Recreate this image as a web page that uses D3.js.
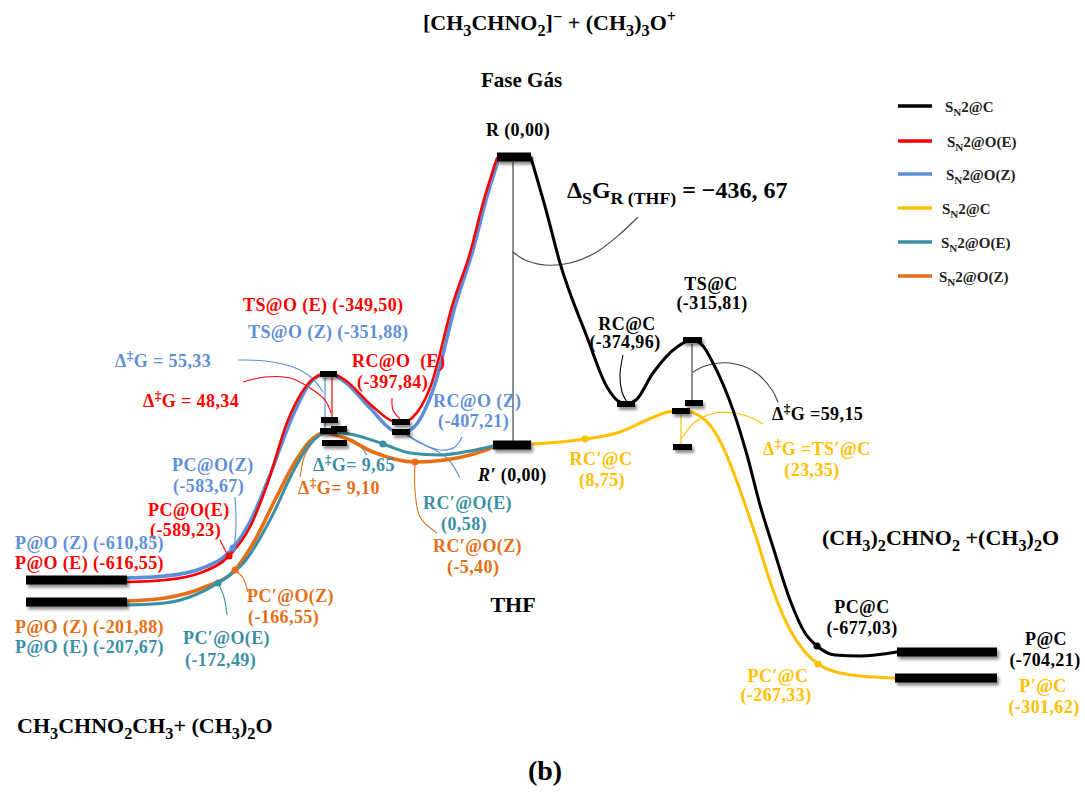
<!DOCTYPE html>
<html><head><meta charset="utf-8">
<script src="https://cdnjs.cloudflare.com/ajax/libs/d3/7.8.5/d3.min.js"></script>
<style>html,body{margin:0;padding:0;background:#fff;} svg{display:block;}</style>
</head><body><svg id="c" width="1085" height="792"></svg>
<script>
// ---------------- DATA (reaction coordinate units, schematic diagram level units) ----------------
// series: 0 SN2@C gas, 1 SN2@O(E) gas, 2 SN2@O(Z) gas, 3 SN2@C THF, 4 SN2@O(E) THF, 5 SN2@O(Z) THF
const seriesNames = ["S_{N}2@C","S_{N}2@O(E)","S_{N}2@O(Z)","S_{N}2@C","S_{N}2@O(E)","S_{N}2@O(Z)"];

const pathSN2C_gas = [[53.1,-1],[54.6,-53],[56.0,-106],[58.7,-180],[60.7,-230],[61.8,-244],[62.6,-247],[63.6,-243],[65.3,-216],[67.7,-190],[69.2,-183],[70.3,-189],[71.3,-206],[73.3,-253],[74.7,-298],[76.0,-348],[77.3,-390],[79.0,-443],[80.5,-476],[81.7,-489],[83.5,-498],[86.0,-499],[89.7,-495]];
const pathSN2OE_gas = [[12.7,-425],[16.5,-423],[20.0,-416],[22.9,-399],[25.0,-370],[26.7,-328],[28.8,-263],[30.7,-228],[32.2,-217],[32.9,-216],[34.5,-223],[37.0,-247],[39.2,-264],[40.1,-266],[41.2,-261],[43.0,-231],[45.3,-146],[47.0,-96],[48.3,-46],[49.7,-1]];
const pathSN2OZ_gas = [[12.7,-421],[16.5,-419],[20.0,-412],[23.3,-391],[25.0,-365],[26.8,-323],[29.4,-256],[31.0,-226],[32.2,-218],[33.0,-217],[34.5,-225],[37.0,-251],[39.2,-273],[40.1,-276],[41.3,-271],[43.3,-233],[45.6,-146],[47.3,-93],[48.6,-43],[49.9,-1]];
const pathSN2C_thf = [[53.1,-287],[56.0,-285],[58.5,-282],[62.0,-275],[64.7,-263],[66.8,-255],[68.3,-253],[69.8,-258],[71.0,-268],[72.3,-290],[74.0,-333],[75.7,-383],[77.3,-433],[79.0,-473],[80.5,-495],[81.8,-507],[84.0,-516],[87.3,-520],[89.5,-521]];
const pathSN2OE_thf = [[12.7,-448],[16.5,-446],[19.5,-438],[21.8,-426],[24.6,-403],[27.0,-363],[29.4,-313],[30.9,-288],[32.0,-278],[32.9,-275],[35.5,-278],[38.3,-287],[41.0,-296],[44.0,-298],[47.0,-294],[49.3,-289]];
const pathSN2OZ_thf = [[12.7,-444],[16.5,-441],[20.5,-430],[23.5,-413],[25.5,-383],[27.5,-343],[29.5,-305],[31.0,-284],[32.3,-276],[34.5,-281],[37.3,-295],[41.5,-305],[45.7,-301],[48.0,-295],[49.3,-290]];
const seriesPaths = [pathSN2C_gas, pathSN2OE_gas, pathSN2OZ_gas, pathSN2C_thf, pathSN2OE_thf, pathSN2OZ_thf];

// energy levels: [state, x start, x end, level]
const majorLevels = [
  ["R", 49.7, 53.1, 0], ["R'", 49.3, 53.1, -288],
  ["P@O gas", 2.6, 12.7, -423], ["P@O THF", 2.6, 12.7, -445],
  ["P@C", 89.7, 99.7, -495], ["P'@C", 89.5, 99.7, -521]
];
const minorLevels = [
  ["TS@O", 32.0, 33.7, -217], ["ref TS@O(E)", 32.1, 33.8, -263], ["TS'@O(Z)", 32.0, 33.7, -274],
  ["TS'@O(E)", 33.1, 34.7, -272], ["ref TS'@O", 32.2, 34.7, -286],
  ["RC@O(E)", 39.2, 41.0, -265], ["RC@O(Z)", 39.2, 41.0, -275],
  ["RC@C", 61.7, 63.5, -247], ["TS@C", 68.3, 70.2, -183], ["ref TS@C", 68.5, 70.3, -246],
  ["TS'@C", 67.2, 69.0, -254], ["ref TS'@C", 67.3, 69.2, -290]
];
// marked points on curves: [x, level, series]
const markedPoints = [[22.9,-399,1],[23.3,-391,2],[23.5,-413,5],[21.8,-426,4],[38.3,-287,4],[41.5,-305,5],[58.5,-282,3],[81.7,-489,0],[81.8,-507,3]];
// vertical gaps: [x, top level, bottom level, series (-1 = neutral)]
const gapLines = [[51.3,-5,-284,-1],[69.2,-187,-244,-1],[33.2,-220,-263,1],[32.5,-220,-271,2],[68.1,-257,-287,3]];
// callout leaders: [series (-1 = neutral), points]
const leaders = [
  [-1, [[51.3,-95],[52.5,-103],[54.5,-108],[57.0,-106],[59.5,-96],[62.0,-77],[63.8,-60]]],
  [-1, [[69.3,-215],[70.5,-209],[73.0,-206],[75.5,-215],[77.2,-233],[77.8,-245]]],
  [3,  [[68.2,-281],[69.5,-265],[71.5,-256],[73.5,-256],[75.2,-261],[76.3,-267]]],
  [1,  [[24.3,-225],[26.5,-220],[29.0,-221],[31.0,-231],[32.5,-243],[33.1,-256]]],
  [2,  [[23.8,-203],[26.5,-204],[29.3,-210],[31.2,-221],[32.3,-235]]],
  [1,  [[39.2,-241],[39.3,-253],[40.0,-262]]],
  [2,  [[46.2,-280],[45.5,-290],[44.0,-293],[42.0,-286],[40.7,-278]]],
  [2,  [[40.5,-277],[42.5,-288],[44.7,-301],[46.0,-321]]],
  [5,  [[41.5,-305],[41.5,-333],[42.0,-360],[43.7,-376]]],
  [5,  [[30.0,-320],[30.5,-298],[31.5,-283],[32.3,-276]]],
  [2,  [[33.8,-279],[35.5,-284],[36.7,-298]]],
  [2,  [[23.5,-340],[23.6,-363],[23.5,-383],[23.3,-391]]],
  [1,  [[22.0,-383],[22.4,-391],[22.8,-399]]],
  [5,  [[23.5,-413],[24.3,-421],[24.8,-435]]],
  [4,  [[21.8,-426],[22.4,-440],[22.7,-458]]],
  [0,  [[62.3,-198],[62.0,-218],[62.2,-235],[62.7,-245]]]
];

// ---------------- DRAWING ----------------
const colors = ["#000000","#ff0000","#5b8fd9","#ffc000","#3b90a6","#e46f16"];
const neutral = "#444";
const widths = [3, 2.6, 3.6, 3, 3, 3.6];
const FONT = "'Liberation Serif', serif";

const svg = d3.select("#c");
const x = d3.scaleLinear().domain([0, 108.5]).range([0, 1085]);
const y = d3.scaleLinear().domain([-600, 0]).range([757, 157]);

const defs = svg.append("defs");
defs.append("filter").attr("id","sh").attr("x","-30%").attr("y","-80%").attr("width","160%").attr("height","300%")
  .append("feDropShadow").attr("dx",2).attr("dy",3).attr("stdDeviation",1.6)
  .attr("flood-color","#000").attr("flood-opacity",0.45);

const col = s => s < 0 ? neutral : colors[s];

// gap lines
svg.append("g").selectAll("line").data(gapLines).join("line")
  .attr("x1", d => x(d[0])).attr("x2", d => x(d[0]))
  .attr("y1", d => y(d[1])).attr("y2", d => y(d[2]))
  .attr("stroke", d => col(d[3])).attr("stroke-width", 1.2);

// leaders
const leaderLine = d3.line().x(d => x(d[0])).y(d => y(d[1])).curve(d3.curveCatmullRom.alpha(0.5));
svg.append("g").selectAll("path").data(leaders).join("path")
  .attr("d", d => leaderLine(d[1])).attr("fill","none")
  .attr("stroke", d => col(d[0])).attr("stroke-width", 1.1);

// curves
const curve = d3.line().x(d => x(d[0])).y(d => y(d[1])).curve(d3.curveMonotoneX);
const drawOrder = [2, 1, 5, 4, 3, 0];
svg.append("g").selectAll("path").data(drawOrder).join("path")
  .attr("d", i => curve(seriesPaths[i])).attr("fill","none")
  .attr("stroke", i => colors[i]).attr("stroke-width", i => widths[i])
  .attr("stroke-linecap","round").attr("stroke-linejoin","round");

// levels
const g = svg.append("g").attr("filter","url(#sh)");
g.selectAll("rect.maj").data(majorLevels).join("rect").attr("class","maj")
  .attr("x", d => x(d[1])).attr("width", d => x(d[2]) - x(d[1]))
  .attr("y", d => y(d[3]) - 4.5).attr("height", 9).attr("fill","#000");
g.selectAll("rect.min").data(minorLevels).join("rect").attr("class","min")
  .attr("x", d => x(d[1])).attr("width", d => x(d[2]) - x(d[1]))
  .attr("y", d => y(d[3]) - 3).attr("height", 6).attr("fill","#000");

// points
svg.append("g").selectAll("circle").data(markedPoints).join("circle")
  .attr("cx", d => x(d[0])).attr("cy", d => y(d[1])).attr("r", 3.6).attr("fill", d => colors[d[2]]);

// rich text helper
function rich(sel, str, fs) {
  const parts = str.split(/(_\{[^}]*\}|\^\{[^}]*\}|\*\{[^}]*\})/g).filter(p => p !== "");
  let shift = 0;
  parts.forEach(p => {
    let t = p, s = 0, small = false, ital = false;
    if (p.startsWith("_{")) { t = p.slice(2, -1); s = 0.26 * fs; small = true; }
    else if (p.startsWith("^{")) { t = p.slice(2, -1); s = -0.38 * fs; small = true; }
    else if (p.startsWith("*{")) { t = p.slice(2, -1); ital = true; }
    const ts = sel.append("tspan").text(t);
    if (s - shift !== 0) ts.attr("dy", s - shift);
    if (small) ts.attr("font-size", fs * 0.74);
    if (ital) ts.attr("font-style", "italic");
    shift = s;
  });
}

const K = {k:"#000", r:"#ff0000", b:"#5f8fd8", y:"#ffc000", t:"#3b8fa5", o:"#e46f16"};
const S = 18;
const labels = [
  ["R (0,00)", 518, 136, "k", "middle", S],
  ["TS@C", 711, 290, "k", "middle", S], ["(-315,81)", 712, 309, "k", "middle", S],
  ["RC@C", 627, 330, "k", "middle", S], ["(-374,96)", 625, 348, "k", "middle", S],
  ["Δ^{‡}G =59,15", 772, 420, "k", "start", S],
  ["PC@C", 862, 613, "k", "middle", S], ["(-677,03)", 862, 634, "k", "middle", S],
  ["P@C", 1046, 645, "k", "middle", S], ["(-704,21)", 1045, 666, "k", "middle", S],
  ["*{R′} (0,00)", 478, 481, "k", "start", S],
  ["THF", 513, 612, "k", "middle", 22],
  ["RC′@C", 601, 465, "y", "middle", S], ["(8,75)", 602, 486, "y", "middle", S],
  ["Δ^{‡}G =TS′@C", 763, 455, "y", "start", S], ["(23,35)", 812, 476, "y", "middle", S],
  ["PC′@C", 778, 682, "y", "middle", S], ["(-267,33)", 776, 701, "y", "middle", S],
  ["P′@C", 1043, 692, "y", "middle", S], ["(-301,62)", 1044, 713, "y", "middle", S],
  ["TS@O (E) (-349,50)", 243, 311, "r", "start", S],
  ["RC@O  (E)", 352, 367, "r", "start", S], ["(-397,84)", 357, 388, "r", "start", S],
  ["Δ^{‡}G = 48,34", 143, 407, "r", "start", S],
  ["PC@O(E)", 148, 516, "r", "start", S], ["(-589,23)", 150, 536, "r", "start", S],
  ["P@O (E) (-616,55)", 15, 569, "r", "start", S],
  ["TS@O (Z) (-351,88)", 248, 338, "b", "start", S],
  ["RC@O (Z)", 433, 407, "b", "start", S], ["(-407,21)", 438, 427, "b", "start", S],
  ["Δ^{‡}G = 55,33", 115, 367, "b", "start", S],
  ["PC@O(Z)", 172, 471, "b", "start", S], ["(-583,67)", 173, 492, "b", "start", S],
  ["P@O (Z) (-610,85)", 15, 549, "b", "start", S],
  ["Δ^{‡}G= 9,65", 313, 471, "t", "start", S],
  ["RC′@O(E)", 423, 509, "t", "start", S], ["(0,58)", 464, 530, "t", "middle", S],
  ["P@O (E) (-207,67)", 15, 653, "t", "start", S],
  ["PC′@O(E)", 183, 644, "t", "start", S], ["(-172,49)", 185, 666, "t", "start", S],
  ["Δ^{‡}G= 9,10", 298, 494, "o", "start", S],
  ["RC′@O(Z)", 433, 552, "o", "start", S], ["(-5,40)", 447, 573, "o", "start", S],
  ["P@O (Z) (-201,88)", 15, 633, "o", "start", S],
  ["PC′@O(Z)", 247, 602, "o", "start", S], ["(-166,55)", 248, 623, "o", "start", S],
  ["[CH_{3}CHNO_{2}]^{−} + (CH_{3})_{3}O^{+}", 423, 30, "k", "start", 22],
  ["Fase Gás", 481, 87, "k", "start", 21],
  ["Δ_{S}G_{R (THF)} = −436, 67", 567, 198, "k", "start", 24],
  ["(CH_{3})_{2}CHNO_{2} +(CH_{3})_{2}O", 822, 545, "k", "start", 22],
  ["CH_{3}CHNO_{2}CH_{3}+ (CH_{3})_{2}O", 17, 733, "k", "start", 22],
  ["(b)", 545, 780, "k", "middle", 28]
];
const lg = svg.append("g").attr("font-family", FONT).attr("font-weight", "bold");
labels.forEach(L => {
  const t = lg.append("text").attr("x", L[1]).attr("y", L[2]).attr("fill", K[L[3]])
    .attr("text-anchor", L[4]).attr("font-size", L[5]).style("white-space", "pre");
  if (L[5] === S) t.attr("letter-spacing", 0.4);
  rich(t, L[0], L[5]);
});

// legend
const legY = [106, 141, 174, 208, 242, 276];
const legTX = [945, 947, 946, 942, 941, 939];
const leg = svg.append("g");
seriesNames.forEach((n, i) => {
  leg.append("line").attr("x1", 898).attr("x2", 932).attr("y1", legY[i]).attr("y2", legY[i])
    .attr("stroke", colors[i]).attr("stroke-width", 3.5);
  const t = leg.append("text").attr("x", legTX[i]).attr("y", legY[i] + 6)
    .attr("font-family", FONT).attr("font-weight", "bold").attr("font-size", 15).attr("fill", "#222");
  rich(t, n, 15);
});
</script></body></html>
